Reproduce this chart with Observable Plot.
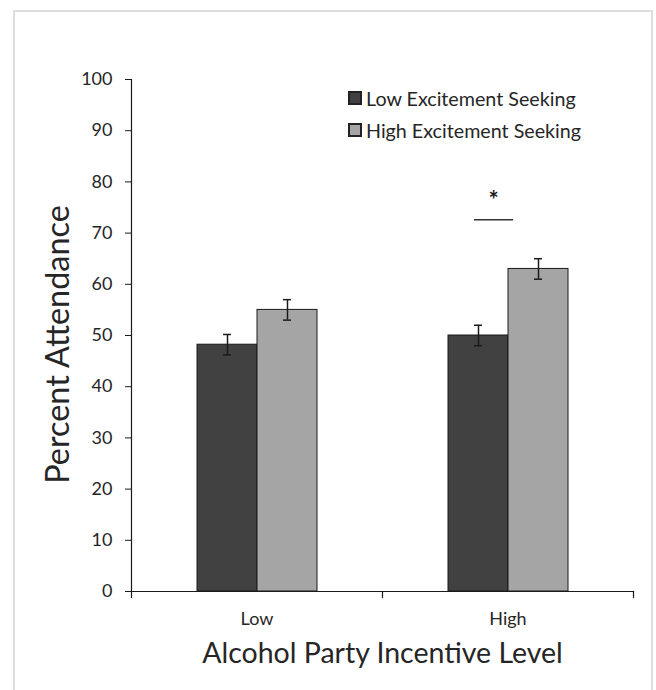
<!DOCTYPE html>
<html><head><meta charset="utf-8">
<script src="https://cdn.jsdelivr.net/npm/d3@7"></script>
<script src="https://cdn.jsdelivr.net/npm/@observablehq/plot@0.6"></script>
<style>
html,body{margin:0;padding:0;background:#fff;overflow:hidden;}
#wrap{position:relative;width:656px;height:690px;font-family:Lato,sans-serif;}
#border{position:absolute;left:13px;top:10px;width:640px;height:720px;border:2px solid #dedede;box-sizing:border-box;}
#chart{position:absolute;left:0;top:0;}
#legend{position:absolute;left:349px;top:82px;}
g[aria-label="y-axis label"] text{font-size:32.4px;}
g[aria-label="y-axis label"]{translate:0px 9px;}
g[aria-label="fx-axis label"] text{font-size:28.5px;}
.lg-swatches{margin:0 !important;font-family:Lato,sans-serif !important;font-size:19.7px !important;color:#262626;}
.lg-swatch{height:32px;padding-bottom:0 !important;}
.lg-swatch svg{margin-right:5px !important;}
.lg-swatch svg rect{stroke:#222;stroke-width:2px;}
</style></head><body>
<div id="wrap"><div id="border"></div><div id="chart"></div><div id="legend"></div></div>
<script>
const categories = ["Low", "High"];
const seriesNames = ["Low Excitement Seeking", "High Excitement Seeking"];
const lowESValues = [48.2, 50];
const highESValues = [55, 63];
const lowESErrors = [2, 2];
const highESErrors = [2, 2];
const yTicks = [0, 10, 20, 30, 40, 50, 60, 70, 80, 90, 100];
const sigCategory = ["High"];
const sigLineY = [72.6];
const sigStarY = [76.3];
const sigLabel = ["*"];
const colors = ["#414141", "#a5a5a5"];

const data = categories.flatMap((c, i) => [
  {category: c, series: seriesNames[0], value: lowESValues[i], err: lowESErrors[i]},
  {category: c, series: seriesNames[1], value: highESValues[i], err: highESErrors[i]}
]);
const sig = sigCategory.map((c, i) => ({category: c, series: seriesNames[0], y: sigLineY[i], starY: sigStarY[i], label: sigLabel[i]}));

const W = 656, H = 690, mT = 79, mB = 99, mL = 131, mR = 23;
const ink = "#1a1a1a";
const plot = Plot.plot({
  width: W, height: H,
  marginTop: mT, marginBottom: mB, marginLeft: mL, marginRight: mR,
  style: {fontFamily: "Lato, sans-serif", fontSize: "18px", color: "#262626", background: "transparent", overflow: "visible"},
  fx: {domain: categories, paddingInner: 0, paddingOuter: 0},
  x: {domain: seriesNames, paddingInner: 0, paddingOuter: 1.09, axis: null},
  y: {domain: [0, 100]},
  color: {domain: seriesNames, range: colors},
  marks: [
    Plot.axisY({ticks: yTicks, tickSize: 6, tickPadding: 13, fontSize: 18, stroke: ink,
      label: "Percent Attendance", labelAnchor: "center", labelOffset: 86, labelArrow: "none"}),
    Plot.axisFx({anchor: "bottom", tickSize: 0, tickPadding: 21, fontSize: 18,
      label: "Alcohol Party Incentive Level", labelAnchor: "center", labelOffset: 71, labelArrow: "none"}),
    Plot.barY(data, {fx: "category", x: "series", y: "value", fill: "series", stroke: ink, strokeWidth: 1}),
    Plot.ruleX(data, {fx: "category", x: "series", y1: d => d.value - d.err, y2: d => d.value + d.err, stroke: ink, strokeWidth: 1.5}),
    Plot.tickY(data, {fx: "category", x: "series", y: d => d.value - d.err, insetLeft: 26, insetRight: 26, stroke: ink, strokeWidth: 1.5}),
    Plot.tickY(data, {fx: "category", x: "series", y: d => d.value + d.err, insetLeft: 26, insetRight: 26, stroke: ink, strokeWidth: 1.5}),
    Plot.tickY(sig, {fx: "category", x: "series", y: "y", insetLeft: 26, insetRight: -5, stroke: "#333", strokeWidth: 1.5}),
    Plot.text(sig, {fx: "category", x: "series", y: "starY", text: "label", dx: 15, fontSize: 24, fontWeight: "bold", fill: ink}),
    Plot.frame({anchor: "bottom", stroke: ink, strokeWidth: 1.2}),
    Plot.frame({anchor: "left", facetAnchor: "left", insetBottom: -6, stroke: ink, strokeWidth: 1.2}),
    Plot.frame({anchor: "right", insetTop: H - mT - mB, insetBottom: -6, stroke: ink, strokeWidth: 1.2})
  ]
});
document.getElementById("chart").appendChild(plot);

const legend = Plot.legend({
  color: {domain: seriesNames, range: colors},
  legend: "swatches", columns: 1, swatchSize: 12, className: "lg"
});
document.getElementById("legend").appendChild(legend);
</script>
</body></html>
